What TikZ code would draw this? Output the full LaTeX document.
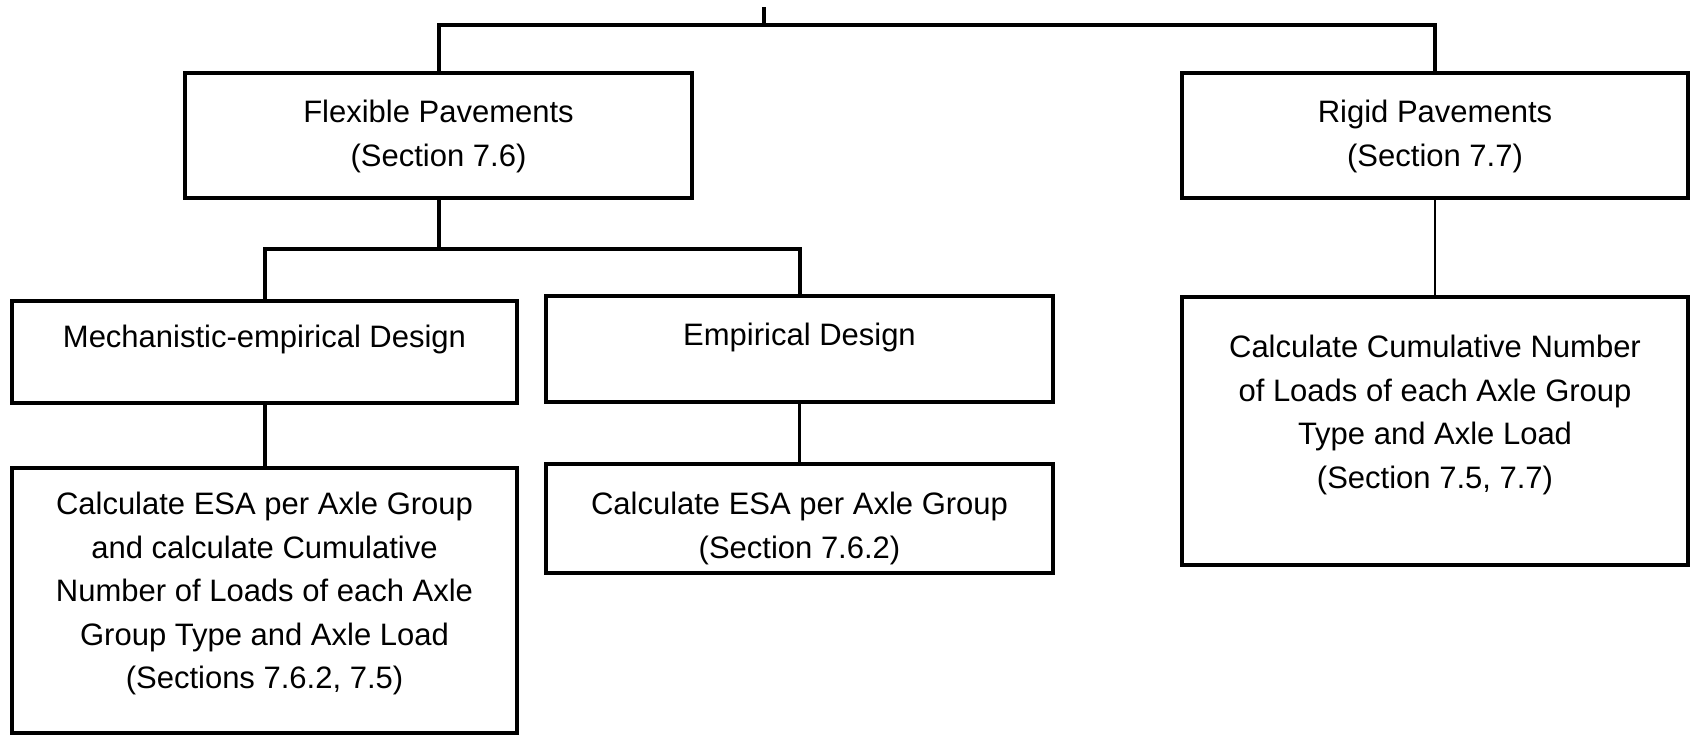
\documentclass[tikz,border=0pt]{standalone}
\usepackage{fontspec}
\setmainfont{Liberation Sans}
\begin{document}
\begin{tikzpicture}[x=0.5pt,y=-0.5pt,
  box/.style={draw=black, line width=2pt, inner sep=0pt, fill=white},
  lbl/.style={anchor=north, align=center, inner sep=0pt,
    font=\fontsize{15.5}{21.75}\selectfont},
  thickline/.style={line width=2pt, line cap=rect},
  thinline/.style={line width=1.2pt}]
\useasboundingbox (0,0) rectangle (1690,735);
% boxes
\node[box, minimum width=253.5pt, minimum height=62.5pt] (flex) at (438.5,135.5) {};
\node[box, minimum width=253pt, minimum height=62.5pt] (rigid) at (1435,135.5) {};
\node[box, minimum width=252.5pt, minimum height=51pt] (mech) at (264.5,352) {};
\node[box, minimum width=253.5pt, minimum height=53pt] (emp) at (799.5,349) {};
\node[box, minimum width=252.5pt, minimum height=132.5pt] (mechcalc) at (264.5,600.5) {};
\node[box, minimum width=253.5pt, minimum height=54.5pt] (empcalc) at (799.5,518.5) {};
\node[box, minimum width=253pt, minimum height=134pt] (rigidcalc) at (1435,431) {};
% texts
\node[lbl] (flext) at (438.5,100) {Flexible Pavements\\(Section 7.6)};
\node[lbl] (rigidt) at (1435,100) {Rigid Pavements\\(Section 7.7)};
\node[lbl] (mecht) at (264.5,325) {Mechanistic-empirical Design};
\node[lbl] (empt) at (799.5,323) {Empirical Design};
\node[lbl] (mechcalct) at (264.5,492) {Calculate ESA per Axle Group\\and calculate Cumulative\\Number of Loads of each Axle\\Group Type and Axle Load\\(Sections 7.6.2, 7.5)};
\node[lbl] (empcalct) at (799.5,492) {Calculate ESA per Axle Group\\(Section 7.6.2)};
\node[lbl] (rigidcalct) at (1435,335) {Calculate Cumulative Number\\of Loads of each Axle Group\\Type and Axle Load\\(Section 7.5, 7.7)};
% connectors
\coordinate (top) at (764,9);
\coordinate (bus) at (764,25);
\coordinate (fbus) at (531,249);
\draw[thickline] (top) -- (bus);
\draw[line width=2pt] (flex.north) |- (bus) -| (rigid.north);
\draw[line width=2pt] (flex.south) -- (flex.south |- fbus);
\draw[line width=2pt] (mech.north) |- (fbus) -| (emp.north);
\draw[line width=2pt] (mech.south) -- (mechcalc.north);
\draw[thinline] (emp.south) -- (empcalc.north);
\draw[thinline] (rigid.south) -- (rigidcalc.north);
\end{tikzpicture}
\end{document}
